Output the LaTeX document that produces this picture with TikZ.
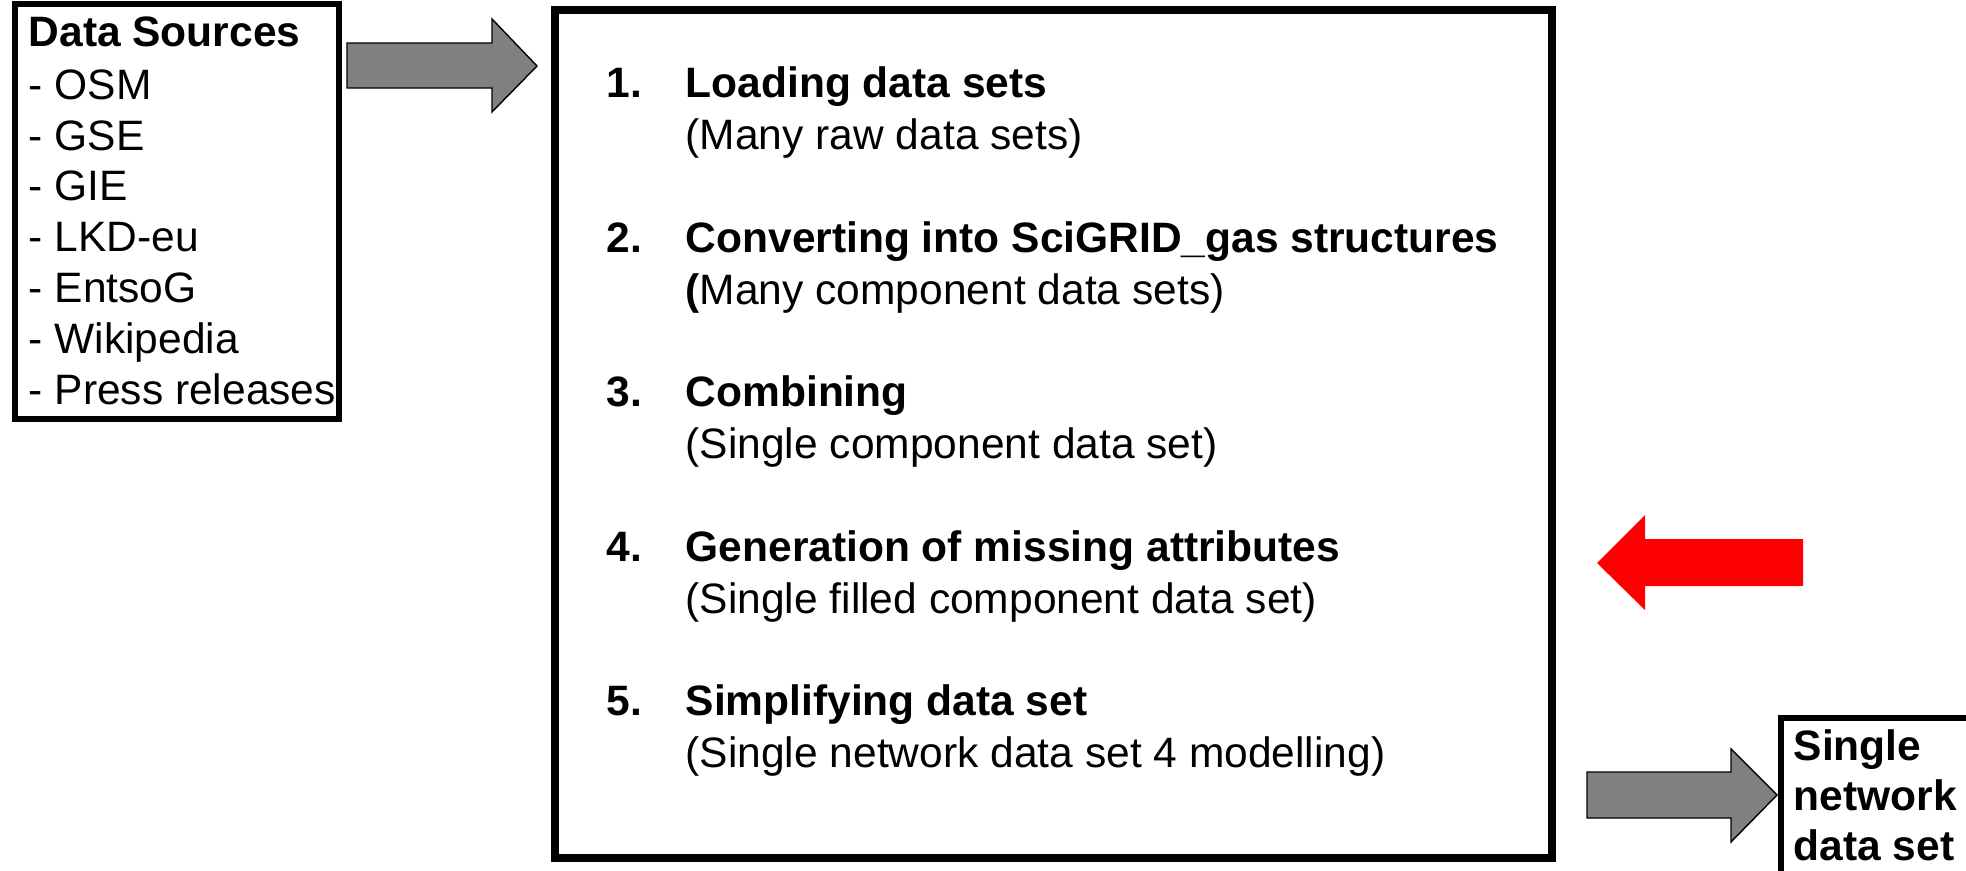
\documentclass[tikz,border=0pt]{standalone}
\usepackage{tikz}
\usepackage{xcolor}
\usepackage{fontspec}
\setmainfont{Liberation Sans}
\definecolor{boxline}{RGB}{0,0,0}
\definecolor{arrowgray}{RGB}{128,128,128}
\definecolor{arrowred}{RGB}{255,0,0}

\begin{document}
\begin{tikzpicture}[x=0.1mm, y=-0.1mm,
  txt/.style={anchor=base west, inner sep=0pt, font=\fontsize{12.1}{14}\selectfont},
  bold/.style={txt, font=\fontsize{12.1}{14}\selectfont\bfseries}]

\useasboundingbox (0,0) rectangle (1966,871);
\clip (0,0) rectangle (1966,871);
\fill[white] (0,0) rectangle (1966,871);

% 1. DATA SOURCES (Left)
\draw[boxline, line width=1.7pt] (15,4) rectangle (339,419);
\node[bold] (srchead) at (28,47) {Data Sources};
\node[txt] (osm) at (28,99) {- OSM};
\node[txt] (gse) at (28,150) {- GSE};
\node[txt] (gie) at (28,200) {- GIE};
\node[txt] (lkd) at (28,251) {- LKD-eu};
\node[txt] (entsog) at (28,302) {- EntsoG};
\node[txt] (wiki) at (28,353) {- Wikipedia};
\node[txt] (press) at (28,404) {- Press releases};

% Input arrow
\fill[arrowgray, draw=black, line width=0.4pt] (347,43) -- (492,43) -- (492,19) -- (537,66) -- (492,112) -- (492,88) -- (347,88) -- cycle;

% 2. PROCESSING STEPS (Middle)
\draw[boxline, line width=2.1pt] (555,10) rectangle (1552,858);

\node[bold] (num1) at (606,97) {1.};
\node[bold] (title1) at (685,97) {Loading data sets};
\node[txt] (sub1) at (685,149) {(Many raw data sets)};

\node[bold] (num2) at (606,252) {2.};
\node[bold] (title2) at (685,252) {Converting into SciGRID\_gas structures};
\node[txt] (sub2) at (685,304) {\textbf{(}Many component data sets)};

\node[bold] (num3) at (606,406) {3.};
\node[bold] (title3) at (685,406) {Combining};
\node[txt] (sub3) at (685,458) {(Single component data set)};

\node[bold] (num4) at (606,561) {4.};
\node[bold] (title4) at (685,561) {Generation of missing attributes};
\node[txt] (sub4) at (685,613) {(Single filled component data set)};

\node[bold] (num5) at (606,715) {5.};
\node[bold] (title5) at (685,715) {Simplifying data set};
\node[txt] (sub5) at (685,767) {(Single network data set 4 modelling)};

% Red marker arrow
\fill[arrowred] (1597,563) -- (1645,515) -- (1645,539) -- (1803,539) -- (1803,586) -- (1645,586) -- (1645,610) -- cycle;

% 3. OUTPUT (Bottom right)
\fill[arrowgray, draw=black, line width=0.4pt] (1587,772) -- (1731,772) -- (1731,749) -- (1777,795) -- (1731,842) -- (1731,818) -- (1587,818) -- cycle;
\draw[boxline, line width=1.7pt] (1781,718) rectangle (2000,900);
\node[bold] (out1) at (1793,760) {Single};
\node[bold] (out2) at (1793,810) {network};
\node[bold] (out3) at (1793,860) {data set};

\end{tikzpicture}
\end{document}
